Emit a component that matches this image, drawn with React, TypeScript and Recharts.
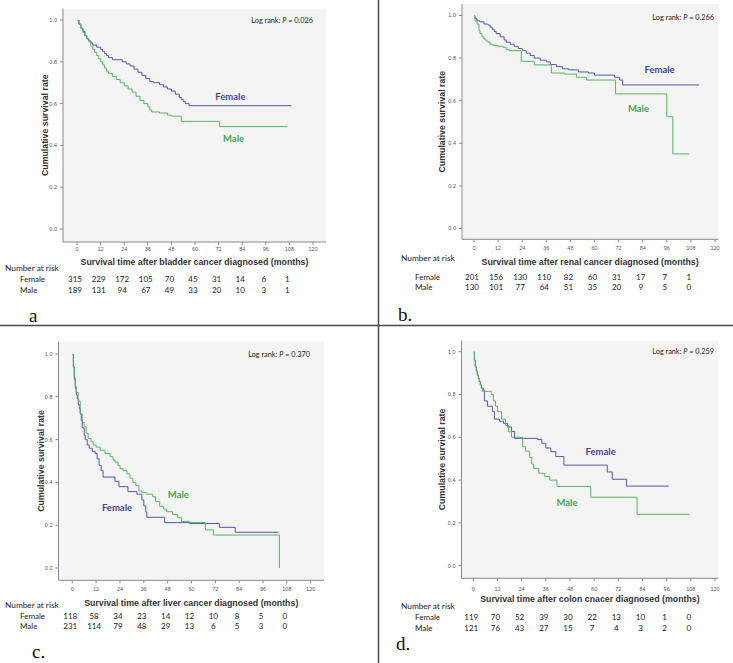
import React from 'react';
import { LineChart, Line, XAxis, YAxis, CartesianGrid, ReferenceDot } from 'recharts';

type Pt = [number, number];

const timeTicks = [0, 12, 24, 36, 48, 60, 72, 84, 96, 108, 120];
const rateTicks = [0, 0.2, 0.4, 0.6, 0.8, 1.0];
const groupLabels = ['Female', 'Male'];
const riskTitle = 'Number at risk';

// a. bladder
const bladderFemale: Pt[] = [[0,1],[1,0.98],[2,0.96],[3,0.945],[4,0.925],[5,0.91],[6,0.9],[7,0.89],[8,0.88],[10,0.87],[12,0.86],[13,0.85],[14,0.84],[15,0.83],[16,0.82],[18,0.81],[23,0.8],[25,0.79],[27,0.78],[29,0.765],[31,0.75],[33,0.735],[35,0.72],[37,0.705],[39,0.7],[42,0.69],[44,0.68],[46,0.67],[48,0.66],[50,0.645],[52,0.63],[53,0.62],[54,0.61],[55,0.6],[57,0.59],[109,0.59]];
const bladderMale: Pt[] = [[0,1],[1,0.98],[2,0.96],[3,0.94],[4,0.925],[5,0.91],[6,0.895],[7,0.875],[8,0.86],[9,0.845],[10,0.83],[11,0.815],[12,0.8],[13,0.785],[14,0.77],[15,0.755],[16,0.745],[18,0.73],[20,0.715],[22,0.7],[24,0.685],[26,0.67],[28,0.655],[30,0.635],[32,0.615],[34,0.6],[36,0.585],[37,0.57],[38,0.56],[42,0.555],[46,0.545],[48,0.54],[53,0.515],[72.5,0.49],[107,0.49]];
const bladderRiskFemale = [315, 229, 172, 105, 70, 45, 31, 14, 6, 1];
const bladderRiskMale = [189, 131, 94, 67, 49, 33, 20, 10, 3, 1];

// b. renal
const renalFemale: Pt[] = [[0,1],[0.5,0.985],[1.5,0.975],[3,0.97],[5,0.96],[7,0.955],[8,0.945],[9,0.935],[10,0.925],[11,0.915],[13,0.9],[15,0.885],[16,0.875],[18,0.865],[20,0.855],[22,0.845],[24,0.835],[26,0.823],[28,0.812],[30,0.8],[33,0.79],[36,0.782],[38,0.77],[41,0.76],[44,0.75],[47,0.745],[52,0.735],[57,0.73],[60,0.72],[70,0.71],[72.5,0.697],[74,0.674],[112,0.674]];
const renalMale: Pt[] = [[0,1],[0.5,0.975],[1.5,0.96],[2.5,0.93],[3,0.915],[4,0.9],[5,0.89],[6,0.88],[7,0.875],[8,0.865],[9.5,0.86],[12,0.855],[14.5,0.85],[16,0.84],[17.5,0.835],[23.5,0.785],[30,0.768],[38.5,0.73],[45,0.725],[51,0.71],[56,0.697],[70.5,0.632],[96,0.525],[99,0.35],[107,0.35]];
const renalRiskFemale = [201, 156, 130, 110, 82, 60, 31, 17, 7, 1];
const renalRiskMale = [130, 101, 77, 64, 51, 35, 20, 9, 5, 0];

// c. liver
const liverFemale: Pt[] = [[0,1],[0.5,0.94],[1,0.88],[1.5,0.84],[2,0.81],[2.5,0.79],[3,0.765],[3.5,0.745],[4,0.72],[4.5,0.69],[5,0.655],[6,0.62],[6.5,0.6],[7.5,0.575],[8.5,0.56],[10,0.545],[11.5,0.535],[12.5,0.51],[13.5,0.48],[14.5,0.455],[15.5,0.425],[21.5,0.405],[23.5,0.38],[28,0.357],[32.5,0.345],[35,0.318],[36,0.29],[37,0.262],[37.5,0.237],[46.5,0.212],[59,0.208],[74,0.19],[82,0.167],[103.7,0.167]];
const liverMale: Pt[] = [[0,1],[0.5,0.94],[1,0.89],[1.5,0.85],[2,0.82],[3,0.78],[4,0.72],[5,0.68],[6,0.66],[7,0.63],[8,0.605],[9.5,0.59],[10.5,0.575],[12,0.565],[14,0.55],[16.5,0.535],[19,0.52],[20.5,0.505],[21.5,0.495],[23,0.48],[24,0.465],[25.5,0.455],[27.5,0.44],[29,0.42],[30.5,0.4],[32,0.385],[33.5,0.36],[35,0.352],[37.5,0.345],[40.5,0.333],[42,0.31],[44,0.288],[46,0.275],[47.5,0.263],[50.5,0.25],[53,0.235],[55,0.218],[59,0.212],[67,0.178],[71,0.154],[104.2,0.154],[104.25,0]];
const liverRiskFemale = [118, 58, 34, 23, 14, 12, 10, 8, 5, 0];
const liverRiskMale = [231, 114, 79, 48, 29, 13, 6, 5, 3, 0];

// d. colon
const colonFemale: Pt[] = [[0,1],[0.5,0.96],[1,0.93],[1.5,0.91],[2,0.89],[2.5,0.875],[3,0.86],[3.5,0.845],[4,0.83],[5,0.82],[5.5,0.77],[7,0.745],[9.5,0.72],[10.5,0.685],[13,0.675],[15,0.665],[17,0.648],[19,0.627],[20.5,0.595],[32,0.59],[34,0.572],[36,0.55],[38.5,0.533],[41,0.51],[45,0.47],[66.5,0.438],[69,0.404],[76,0.372],[97,0.372]];
const colonMale: Pt[] = [[0,1],[0.5,0.96],[1,0.93],[1.5,0.91],[2,0.89],[2.5,0.875],[3,0.86],[3.5,0.845],[4,0.83],[4.5,0.815],[9,0.8],[10,0.77],[11,0.745],[12,0.72],[14,0.685],[16,0.655],[17.5,0.625],[19,0.6],[24.5,0.556],[26,0.535],[28,0.505],[29,0.475],[30,0.455],[32.5,0.432],[35.5,0.416],[38,0.4],[41.5,0.37],[58.3,0.32],[81.3,0.24],[107.3,0.24]];
const colonRiskFemale = [119, 70, 52, 39, 30, 22, 13, 10, 1, 0];
const colonRiskMale = [121, 76, 43, 27, 15, 7, 4, 3, 2, 0];

const FEMALE_LINE = '#5159a8';
const MALE_LINE = '#58b462';
const FEMALE_TEXT = '#3f479b';
const MALE_TEXT = '#45a851';
const FRAME = '#8a8a8a';
const ARIAL = '"Liberation Sans", Arial, sans-serif';
const CAL = 'Lato, "Open Sans", sans-serif';

interface Cfg {
  letter: string; letterX: number; letterY: number;
  site: string; pText: string;
  female: Pt[]; male: Pt[]; riskF: number[]; riskM: number[];
  fLab: Pt; mLab: Pt; pLab: Pt;
  L: number; T: number; W: number; H: number;
  fx1: number; fy1: number; fx2: number; fy2: number;
  x0: number; x120: number; y1: number; y0: number;
  tc: number; xTitleDy: number; yTitleOff: number;
  Fc: number; Mc: number; nrX: number; nrY: number; rowX: number;
}

const panels: Cfg[] = [
  { letter: 'a', letterX: 29, letterY: 322, site: 'bladder cancer', pText: '0.026',
    female: bladderFemale, male: bladderMale, riskF: bladderRiskFemale, riskM: bladderRiskMale,
    fLab: [78, 0.632], mLab: [79.6, 0.431], pLab: [120, 1.0],
    L: 0, T: 0, W: 370, H: 325, fx1: 63, fy1: 8.5, fx2: 326, fy2: 242, x0: 77, x120: 313, y1: 20, y0: 229,
    tc: 7, xTitleDy: 20, yTitleOff: 18, Fc: 279, Mc: 290, nrX: 5, nrY: 268, rowX: 20 },
  { letter: 'b.', letterX: 398, letterY: 321, site: 'renal cancer', pText: '0.266',
    female: renalFemale, male: renalMale, riskF: renalRiskFemale, riskM: renalRiskMale,
    fLab: [92.4, 0.744], mLab: [81.9, 0.562], pLab: [119.5, 0.99],
    L: 379, T: 0, W: 354, H: 325, fx1: 462, fy1: 4, fx2: 718.3, fy2: 239.3, x0: 474, x120: 715, y1: 15.5, y0: 228.5,
    tc: 8.7, xTitleDy: 23, yTitleOff: 20, Fc: 277.3, Mc: 287.3, nrX: 401, nrY: 257.7, rowX: 415 },
  { letter: 'c.', letterX: 32, letterY: 658, site: 'liver cancer', pText: '0.370',
    female: liverFemale, male: liverMale, riskF: liverRiskFemale, riskM: liverRiskMale,
    fLab: [22.5, 0.28], mLab: [53.4, 0.341], pLab: [119.6, 1.0],
    L: 0, T: 330, W: 370, H: 333, fx1: 58.5, fy1: 341.7, fx2: 324, fy2: 580.3, x0: 72.3, x120: 310.7, y1: 354, y0: 568,
    tc: 8.7, xTitleDy: 22.5, yTitleOff: 18, Fc: 615.7, Mc: 625.7, nrX: 5, nrY: 605.3, rowX: 20 },
  { letter: 'd.', letterX: 396, letterY: 650, site: 'colon cnacer', pText: '0.259',
    female: colonFemale, male: colonMale, riskF: colonRiskFemale, riskM: colonRiskMale,
    fLab: [63.2, 0.533], mLab: [46.5, 0.294], pLab: [119.5, 1.0],
    L: 379, T: 330, W: 354, H: 333, fx1: 461.5, fy1: 340.5, fx2: 718.3, fy2: 578.3, x0: 473.3, x120: 715, y1: 351.7, y0: 565.7,
    tc: 10.5, xTitleDy: 21, yTitleOff: 19.5, Fc: 617.3, Mc: 627.7, nrX: 401, nrY: 606, rowX: 415 },
];

function XTick(props: any) {
  const { x, y, payload } = props;
  return (
    <text x={x} y={y} dy="0.35em" textAnchor="middle" fontSize={5.5} fill="#555" fontFamily={ARIAL}>
      {payload.value}
    </text>
  );
}

function YTick(props: any) {
  const { x, y, payload } = props;
  return (
    <text x={x} y={y} dy="0.35em" textAnchor="end" fontSize={5.5} fill="#555" fontFamily={ARIAL}>
      {Number(payload.value).toFixed(1)}
    </text>
  );
}

function RiskTick(props: any) {
  const { x, y, payload, values } = props;
  const v = values[Math.round(payload.value / 12)];
  if (v === undefined) return <g />;
  return (
    <text x={x - 2} y={y} dy="0.35em" textAnchor="middle" fontSize={8} fill="#222" fontFamily={CAL}>
      {v}
    </text>
  );
}

function Panel({ c }: { c: Cfg }) {
  const Hr = c.Mc - c.Fc;
  const Hm = c.Fc - c.fy2 - Hr / 2;
  const margin = {
    top: c.fy1 - c.T,
    right: c.L + c.W - c.fx2,
    left: 0,
    bottom: c.T + c.H - c.fy2 - Hm - 2 * Hr,
  };
  const yW = c.fx1 - c.L;
  const xPad = { left: c.x0 - c.fx1, right: c.fx2 - c.x120 };
  const yPad = { top: c.y1 - c.fy1, bottom: c.fy2 - c.y0 };
  const fData = c.female.map(([t, s]) => ({ t, s }));
  const mData = c.male.map(([t, s]) => ({ t, s }));
  const riskTicks = timeTicks.slice(0, c.riskF.length);
  const riskFData = riskTicks.map((t, i) => ({ t, n: c.riskF[i] }));
  const riskMData = riskTicks.map((t, i) => ({ t, n: c.riskM[i] }));

  const xTitle = (p: any) => {
    const vb = p.viewBox || {};
    return (
      <text x={vb.x + vb.width / 2} y={vb.y + c.xTitleDy} dy="0.35em" textAnchor="middle"
        fontSize={8.8} fontWeight="bold" fill="#333" fontFamily={ARIAL}>
        {`Survival time after ${c.site} diagnosed (months)`}
      </text>
    );
  };
  const yTitle = (p: any) => {
    const vb = p.viewBox || {};
    const x = vb.x + vb.width - c.yTitleOff;
    const y = vb.y + vb.height / 2;
    return (
      <text x={x} y={y} dy="0.35em" textAnchor="middle" transform={`rotate(-90, ${x}, ${y})`}
        fontSize={8.8} fontWeight="bold" fill="#333" fontFamily={ARIAL}>
        Cumulative survival rate
      </text>
    );
  };
  const rowLabel = (name: string, withTitle: boolean) => (p: any) => {
    const vb = p.viewBox || {};
    return (
      <g>
        {withTitle && (
          <text x={c.nrX - c.L} y={c.nrY - c.T} dy="0.35em" fontSize={8.3} fill="#222" fontFamily={CAL}>
            {riskTitle}
          </text>
        )}
        <text x={c.rowX - c.L} y={vb.y + vb.height / 2} dy="0.35em" fontSize={8} fill="#222" fontFamily={CAL}>
          {name}
        </text>
      </g>
    );
  };
  const groupText = (name: string, color: string) => (p: any) => {
    const vb = p.viewBox || {};
    return (
      <text x={vb.x + vb.width / 2} y={vb.y + vb.height / 2} dy="0.35em" textAnchor="middle"
        fontSize={9.5} fontWeight="bold" fill={color} fontFamily={CAL}>
        {name}
      </text>
    );
  };
  const pText = (p: any) => {
    const vb = p.viewBox || {};
    return (
      <text x={vb.x + vb.width / 2} y={vb.y + vb.height / 2} dy="0.35em" textAnchor="end"
        fontSize={7.3} fill="#222" fontFamily={CAL}>
        {'Log rank: '}<tspan fontStyle="italic">P</tspan>{` = ${c.pText}`}
      </text>
    );
  };

  return (
    <div style={{ position: 'absolute', left: c.L, top: c.T, width: c.W, height: c.H }}>
      <LineChart width={c.W} height={c.H} margin={margin}>
        <CartesianGrid horizontal={false} vertical={false} fill="#f4f4f4" fillOpacity={1} />
        <XAxis dataKey="t" type="number" domain={[0, 120]} allowDataOverflow ticks={timeTicks} interval={0}
          padding={xPad} height={Hm} stroke={FRAME} tickSize={3} tickMargin={c.tc - 3} tick={<XTick />}
          label={xTitle} />
        <XAxis xAxisId="rf" dataKey="t" type="number" domain={[0, 120]} allowDataOverflow ticks={riskTicks} interval={0}
          padding={xPad} height={Hr} axisLine={false} tickLine={false} tickSize={0} tickMargin={Hr / 2}
          tick={<RiskTick values={c.riskF} />} label={rowLabel(groupLabels[0], true)} />
        <XAxis xAxisId="rm" dataKey="t" type="number" domain={[0, 120]} allowDataOverflow ticks={riskTicks} interval={0}
          padding={xPad} height={Hr} axisLine={false} tickLine={false} tickSize={0} tickMargin={Hr / 2}
          tick={<RiskTick values={c.riskM} />} label={rowLabel(groupLabels[1], false)} />
        <XAxis xAxisId="tp" orientation="top" type="number" domain={[0, 120]} allowDataOverflow height={0}
          tick={false} tickLine={false} stroke={FRAME} />
        <YAxis type="number" domain={[0, 1]} allowDataOverflow ticks={rateTicks} interval={0} padding={yPad}
          width={yW} stroke={FRAME} tickSize={3} tickMargin={3} tick={<YTick />} label={yTitle} />
        <YAxis yAxisId="rt" orientation="right" type="number" domain={[0, 1]} allowDataOverflow width={0}
          tick={false} tickLine={false} stroke={FRAME} />
        <Line xAxisId="rf" yAxisId="rt" data={riskFData} dataKey="n" stroke="none" strokeOpacity={0}
          dot={false} activeDot={false} legendType="none" isAnimationActive={false} />
        <Line xAxisId="rm" yAxisId="rt" data={riskMData} dataKey="n" stroke="none" strokeOpacity={0}
          dot={false} activeDot={false} legendType="none" isAnimationActive={false} />
        <Line data={fData} dataKey="s" type="stepAfter" stroke={FEMALE_LINE} strokeWidth={1}
          dot={false} activeDot={false} isAnimationActive={false} />
        <Line data={mData} dataKey="s" type="stepAfter" stroke={MALE_LINE} strokeWidth={1}
          dot={false} activeDot={false} isAnimationActive={false} />
        <ReferenceDot x={c.fLab[0]} y={c.fLab[1]} r={1} fillOpacity={0} strokeOpacity={0} ifOverflow="visible"
          label={groupText(groupLabels[0], FEMALE_TEXT)} />
        <ReferenceDot x={c.mLab[0]} y={c.mLab[1]} r={1} fillOpacity={0} strokeOpacity={0} ifOverflow="visible"
          label={groupText(groupLabels[1], MALE_TEXT)} />
        <ReferenceDot x={c.pLab[0]} y={c.pLab[1]} r={1} fillOpacity={0} strokeOpacity={0} ifOverflow="visible"
          label={pText} />
      </LineChart>
    </div>
  );
}

export default function App() {
  return (
    <div style={{ position: 'absolute', left: 0, top: 0, width: 733, height: 663, background: '#fff', overflow: 'hidden' }}>
      {panels.map((c) => (
        <Panel key={c.letter} c={c} />
      ))}
      <svg width={733} height={663} style={{ position: 'absolute', left: 0, top: 0, pointerEvents: 'none' }}>
        <line x1={0} y1={325.5} x2={733} y2={325.5} stroke="#4a4a4a" strokeWidth={1.5} />
        <line x1={378.5} y1={0} x2={378.5} y2={663} stroke="#4a4a4a" strokeWidth={1.5} />
        {panels.map((c) => (
          <text key={c.letter} x={c.letterX} y={c.letterY} fontSize={19} fill="#111"
            fontFamily='"Liberation Serif", "Times New Roman", serif'>
            {c.letter}
          </text>
        ))}
      </svg>
    </div>
  );
}
